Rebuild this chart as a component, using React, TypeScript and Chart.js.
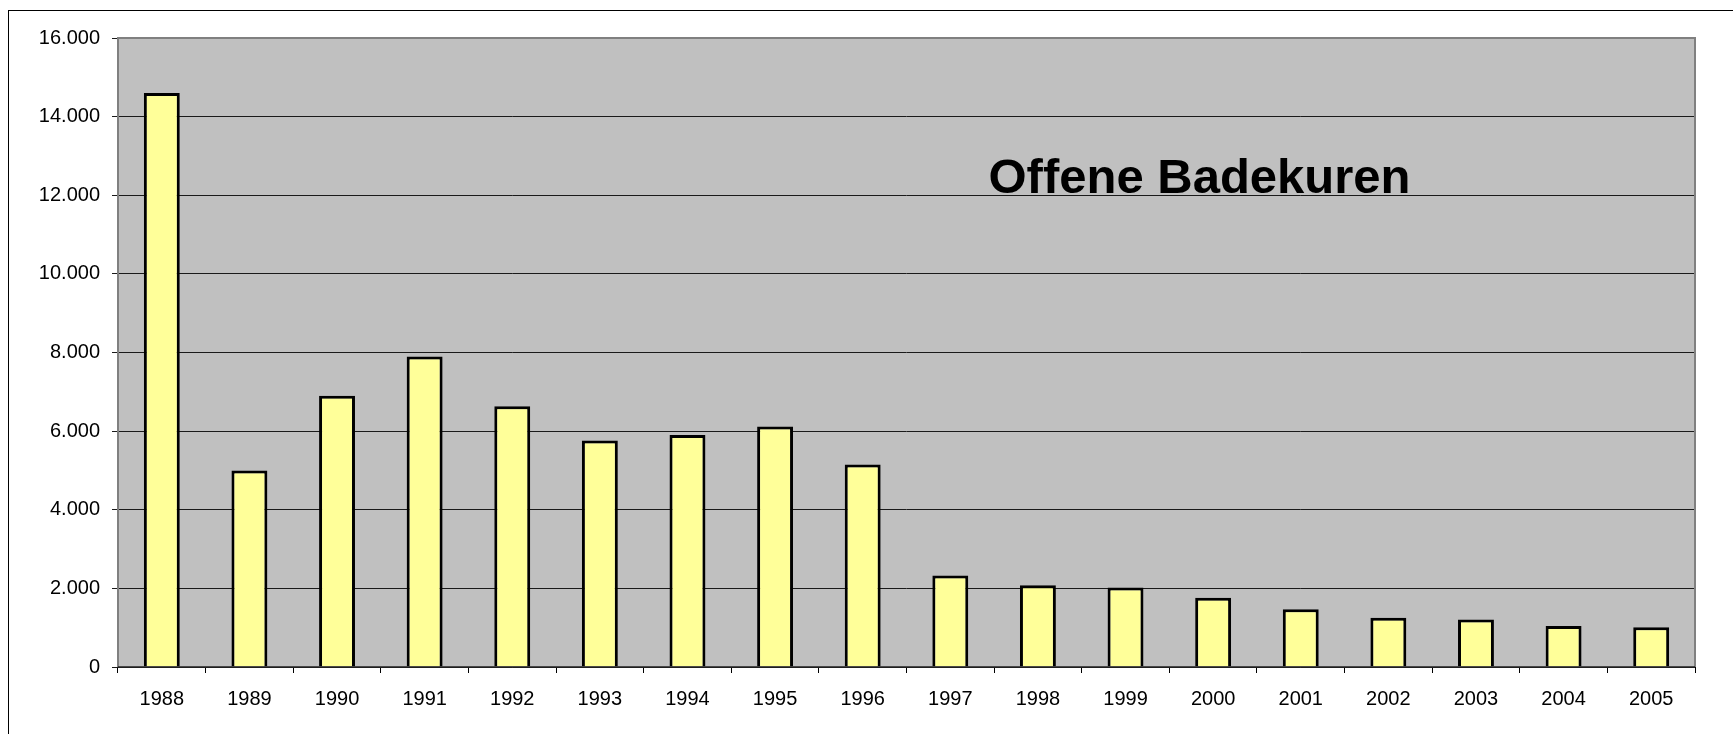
import React, { useEffect, useRef } from "react";
import { Chart, registerables } from "chart.js";

Chart.register(...registerables);

const years = ["1988","1989","1990","1991","1992","1993","1994","1995","1996","1997","1998","1999","2000","2001","2002","2003","2004","2005"];
const kuren = [14600, 5000, 6900, 7900, 6630, 5760, 5900, 6120, 5150, 2330, 2080, 2020, 1760, 1470, 1250, 1210, 1040, 1010];
const yTicks = [0, 2000, 4000, 6000, 8000, 10000, 12000, 14000, 16000];
const chartTitle = "Offene Badekuren";

const FONT = "'Liberation Sans', Arial, Helvetica, sans-serif";

function fmt(v: number): string {
  return String(Math.round(v)).replace(/\B(?=(\d{3})+(?!\d))/g, ".");
}

const plotDeco = {
  id: "plotDeco",
  beforeDraw(chart: any) {
    const { ctx, chartArea: a } = chart;
    ctx.save();
    ctx.fillStyle = "#C0C0C0";
    ctx.fillRect(a.left, a.top, a.right - a.left, a.bottom - a.top);
    ctx.restore();
  },
  afterDatasetsDraw(chart: any) {
    const { ctx, chartArea: a } = chart;
    ctx.save();
    ctx.strokeStyle = "#808080";
    ctx.lineWidth = 2;
    ctx.beginPath();
    ctx.moveTo(a.left, a.bottom);
    ctx.lineTo(a.left, a.top);
    ctx.lineTo(a.right, a.top);
    ctx.lineTo(a.right, a.bottom);
    ctx.stroke();
    ctx.strokeStyle = "#202020";
    ctx.lineWidth = 1.5;
    ctx.beginPath();
    ctx.moveTo(a.left, a.bottom);
    ctx.lineTo(a.right, a.bottom);
    ctx.stroke();
    // title inside plot
    ctx.fillStyle = "#000";
    ctx.font = `bold 49px ${FONT}`;
    ctx.textAlign = "center";
    ctx.textBaseline = "alphabetic";
    const w = a.right - a.left;
    const h = a.bottom - a.top;
    ctx.fillText(chartTitle, a.left + 0.6858 * w, a.top + 0.2464 * h);
    ctx.restore();
  },
};

export default function App() {
  const ref = useRef<HTMLCanvasElement | null>(null);
  useEffect(() => {
    if (!ref.current) return;
    const chart = new Chart(ref.current, {
      type: "bar",
      data: {
        labels: years,
        datasets: [
          {
            data: kuren,
            backgroundColor: "#FFFF99",
            borderColor: "#000000",
            borderWidth: 3,
            categoryPercentage: 1,
            barPercentage: 0.41,
          },
        ],
      },
      options: {
        animation: false,
        responsive: true,
        maintainAspectRatio: false,
        layout: { padding: { top: 27, right: 38, left: 0, bottom: 0 } },
        plugins: { legend: { display: false }, tooltip: { enabled: false }, title: { display: false } },
        scales: {
          x: {
            offset: true,
            grid: { display: true, drawOnChartArea: false, drawTicks: true, tickLength: 6, color: "#000", offset: true },
            border: { display: false },
            ticks: { color: "#000", font: { family: FONT, size: 20 }, padding: 14, maxRotation: 0, autoSkip: false },
            afterFit: (s: any) => { s.height = 67; },
          },
          y: {
            min: 0,
            max: 16000,
            afterBuildTicks: (s: any) => { s.ticks = yTicks.map((v) => ({ value: v })); },
            grid: { color: "#1a1a1a", lineWidth: 1, tickLength: 6 },
            border: { display: false },
            ticks: { color: "#000", font: { family: FONT, size: 20 }, padding: 12, callback: (v: any) => fmt(Number(v)) },
            afterFit: (s: any) => { s.width = 109; },
          },
        },
      },
      plugins: [plotDeco],
    });
    return () => chart.destroy();
  }, []);
  return (
    <div
      style={{
        position: "fixed",
        left: 8,
        top: 10,
        width: 1725,
        height: 724,
        boxSizing: "border-box",
        borderTop: "1px solid #000",
        borderLeft: "1px solid #000",
        background: "#fff",
      }}
    >
      <div style={{ position: "relative", width: 1724, height: 723 }}>
        <canvas ref={ref} />
      </div>
    </div>
  );
}
